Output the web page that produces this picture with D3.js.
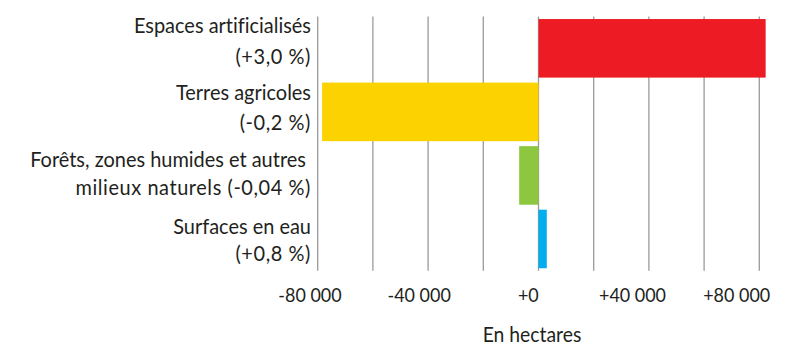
<!DOCTYPE html>
<html>
<head>
<meta charset="utf-8">
<script src="https://cdn.jsdelivr.net/npm/d3@7"></script>
<style>
  html, body { margin: 0; padding: 0; background: #fff; }
  svg { display: block; }
  text { font-family: Lato, "Liberation Sans", Arial, sans-serif; fill: #231f20; white-space: pre; font-variant-ligatures: none; }
</style>
</head>
<body>
<svg id="chart" width="800" height="347"></svg>
<script>
// ---- data ----
const categories = ["Espaces artificialisés", "Terres agricoles", "Forêts, zones humides et autres milieux naturels", "Surfaces en eau"];
const labelLine1 = ["Espaces artificialisés", "Terres agricoles", "Forêts, zones humides et autres ", "Surfaces en eau"];
const labelLine2 = ["(+3,0 %)", "(-0,2 %)", "milieux naturels (-0,04 %)", "(+0,8 %)"];
const values = [82300, -78400, -7000, 3000];
const colors = ["#ed1c24", "#fcd200", "#8dc63f", "#00aeef"];
const gridValues = [-80000, -60000, -40000, -20000, 0, 20000, 40000, 60000, 80000];
const tickValues = [-80000, -40000, 0, 40000, 80000];
const axisTitle = "En hectares";

// ---- layout ----
const svg = d3.select("#chart");
const x = d3.scaleLinear().domain([-80000, 80000]).range([317.7, 759.3]);
const y = d3.scaleBand().domain(categories).range([16.5, 270.8]).paddingInner(0.0785).paddingOuter(0.04);
// tick labels sit on their own slightly compressed placement
const xLab = d3.scaleLinear().domain([-80000, 0, 80000]).range([310, 528.3, 736.7]);
const line1Y = d3.scalePoint().domain(categories).range([33.5, 234.3]);
const line2Y = d3.scalePoint().domain(categories).range([64.5, 260.7]);

const fr = d3.formatLocale({ decimal: ",", thousands: " ", grouping: [3], currency: ["", ""], minus: "-" });
const fmt = fr.format("+,");

// grid lines
svg.append("g").selectAll("line").data(gridValues).join("line")
  .attr("x1", d => x(d)).attr("x2", d => x(d))
  .attr("y1", y.range()[0]).attr("y2", y.range()[1])
  .attr("stroke", "#9a9a9a").attr("stroke-width", 1.3);

// bars
svg.append("g").selectAll("rect").data(categories).join("rect")
  .attr("x", (d, i) => x(Math.min(0, values[i])))
  .attr("width", (d, i) => Math.abs(x(values[i]) - x(0)))
  .attr("y", d => y(d))
  .attr("height", y.bandwidth())
  .attr("fill", (d, i) => colors[i]);

// category labels
const lab = svg.append("g").attr("transform", "translate(311,0) scale(0.95,1)");
categories.forEach((c, i) => {
  lab.append("text").attr("x", 0).attr("y", line1Y(c)).attr("text-anchor", "end")
    .attr("font-size", 21).text(labelLine1[i]);
  lab.append("text").attr("x", 0).attr("y", line2Y(c)).attr("text-anchor", "end")
    .attr("font-size", 21).attr("letter-spacing", 0.6).text(labelLine2[i]);
});

// tick labels
svg.append("g").selectAll("text").data(tickValues).join("text")
  .attr("transform", d => `translate(${xLab(d)},302.3) scale(0.97,1)`)
  .attr("text-anchor", "middle").attr("font-size", 18.5)
  .text(d => fmt(d));

// axis title
svg.append("text")
  .attr("transform", "translate(532,341.7) scale(0.9,1)")
  .attr("text-anchor", "middle").attr("font-size", 21.5)
  .text(axisTitle);
</script>
</body>
</html>
